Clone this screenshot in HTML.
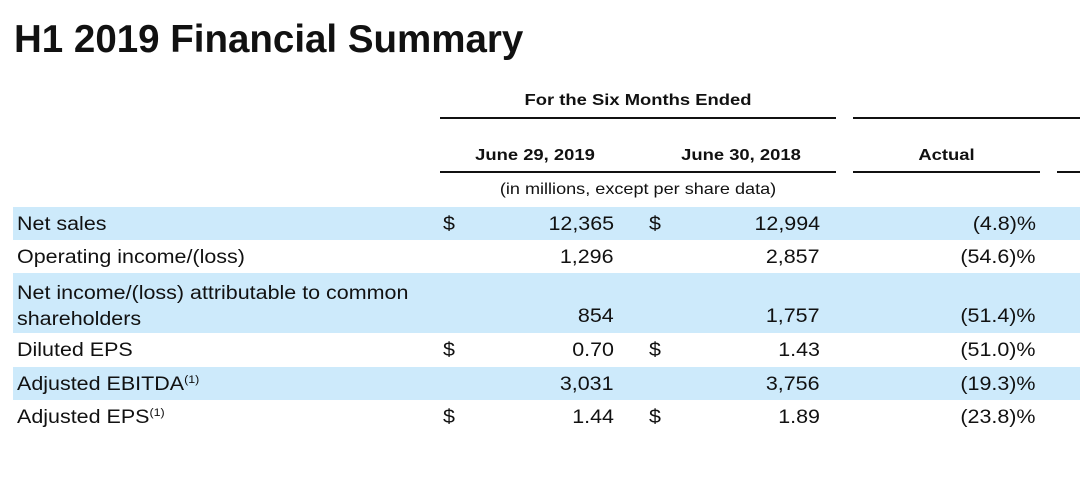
<!DOCTYPE html>
<html><head><meta charset="utf-8"><style>
body{margin:0;width:1080px;height:477px;background:#fff;position:relative;overflow:hidden;font-family:"Liberation Sans",Arial,sans-serif;color:#111}
.a{position:absolute;white-space:nowrap}
.h{font-weight:bold;font-size:16px;transform:scaleX(1.15);transform-origin:center}
.t{font-size:19px;transform:scaleX(1.13);transform-origin:left}
.t.rr{transform-origin:right}
.shade{position:absolute;left:13px;right:0;background:#cdeafb}
.ln{position:absolute;height:2px;background:#111}
sup{font-size:11px;vertical-align:7px;line-height:0}
</style></head><body>
<div class="a" style="left:14px;top:18px;font-size:38.5px;font-weight:bold">H1 2019 Financial Summary</div>
<div class="a h" style="left:440px;width:396px;text-align:center;top:92px">For the Six Months Ended</div>
<div class="ln" style="left:440px;width:396px;top:117px"></div>
<div class="ln" style="left:853px;width:227px;top:117px"></div>
<div class="a h" style="left:440px;width:190px;text-align:center;top:147px">June 29, 2019</div>
<div class="a h" style="left:646px;width:190px;text-align:center;top:147px">June 30, 2018</div>
<div class="a h" style="left:853px;width:187px;text-align:center;top:147px">Actual</div>
<div class="ln" style="left:440px;width:396px;top:171px"></div>
<div class="ln" style="left:853px;width:187px;top:171px"></div>
<div class="ln" style="left:1057px;width:23px;top:171px"></div>
<div class="a" style="left:440px;width:396px;text-align:center;top:181px;font-size:16px;transform:scaleX(1.13)">(in millions, except per share data)</div>

<div class="shade" style="top:207px;height:33px"></div>
<div class="shade" style="top:273px;height:60px"></div>
<div class="shade" style="top:367px;height:33px"></div>

<script>
const labels=["Net sales","Operating income/(loss)","Net income/(loss) attributable to common<br>shareholders","Diluted EPS","Adjusted EBITDA<sup>(1)</sup>","Adjusted EPS<sup>(1)</sup>"];
const v2019=["12,365","1,296","854","0.70","3,031","1.44"];
const v2018=["12,994","2,857","1,757","1.43","3,756","1.89"];
const actual=["(4.8)%","(54.6)%","(51.4)%","(51.0)%","(19.3)%","(23.8)%"];
const dollar=[true,false,false,true,false,true];
const tops=[214,247,306,340,374,407];
const body=document.body;
function add(html,cls,style,name){const d=document.createElement('div');d.className='a t '+cls;d.style.cssText=style;d.innerHTML=html;


body.appendChild(d);}
labels.forEach((l,i)=>{
 const t=tops[i];
 if(i==2){add(l,'','left:17px;top:281px;line-height:26px','row-label');}
 else add(l,'','left:17px;top:'+t+'px','row-label');
 if(dollar[i]){add('$','','left:443px;top:'+t+'px','dollar-sign');add('$','','left:649px;top:'+t+'px','dollar-sign');}
 add(v2019[i],'rr','right:'+(1080-614)+'px;top:'+t+'px','value-2019');
 add(v2018[i],'rr','right:'+(1080-820)+'px;top:'+t+'px','value-2018');
 add(actual[i],'rr','right:'+(1080-1036)+'px;top:'+t+'px','value-actual-change');
});
</script>
</body></html>
